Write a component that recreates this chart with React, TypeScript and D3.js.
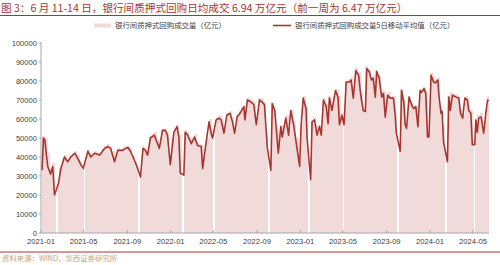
import React from "react";
import * as d3 from "d3";

const W = 500;
const H = 265;

const titleText = "图 3：6 月 11-14 日，银行间质押式回购日均成交 6.94 万亿元（前一周为 6.47 万亿元）";
const legendBarText = "银行间质押式回购成交量（亿元）";
const legendLineText = "银行间质押式回购成交量5日移动平均值（亿元）";
const sourceText = "资料来源：WIND，华西证券研究所";

const yTicks = [0, 10000, 20000, 30000, 40000, 50000, 60000, 70000, 80000, 90000, 100000];
const xTickMonths = [
  "2021-01", "2021-05", "2021-09", "2022-01", "2022-05", "2022-09",
  "2023-01", "2023-05", "2023-09", "2024-01", "2024-05",
];

const firstWeekStart = "2021-01-04";
const lastTradingDay = "2024-06-14";

// weekly bars of daily repo volume (亿元), one per week starting Monday
const weeklyVolume = [
  // 2021
  51000, 50000, 42000, 34000, 37000, 20000, 27000, 35000, 39000, 41000, 39000, 41000, 42000,
  43000, 41000, 38000, 36000, 40000, 44000, 42000, 42000, 43000, 42000, 42000, 44000, 46000,
  47000, 46000, 43000, 40000, 45000, 44000, 45000, 46000, 46000, 45000, 41000, 38000, 35000,
  31000, 46000, 45000, 43000, 51000, 52000, 53000, 49000, 47000, 55000, 55000, 53000, 40000,
  // 2022
  50000, 55000, 57000, 52000, 31000, 54000, 53000, 50000, 49000, 52000, 48000, 47000, 46000,
  40000, 50000, 60000, 54000, 54000, 61000, 62000, 60000, 55000, 63000, 64000, 61000, 55000,
  62000, 64000, 66000, 67000, 71000, 71000, 70000, 69000, 60000, 71000, 71000, 69000, 52000,
  35000, 69000, 66000, 55000, 50000, 57000, 57000, 62000, 55000, 65000, 59000, 50000, 38000,
  // 2023
  58000, 72000, 67000, 30000, 59000, 61000, 57000, 57000, 55000, 71000, 68000, 72000, 66000,
  72000, 76000, 72000, 63000, 60000, 80000, 81000, 82000, 75000, 87000, 85000, 74000, 66000,
  88000, 86000, 82000, 83000, 86000, 83000, 75000, 75000, 73000, 74000, 72000, 72000, 63000,
  45000, 76000, 70000, 58000, 72000, 69000, 67000, 67000, 60000, 76000, 77000, 75000, 52000,
  // 2024
  84000, 82000, 81000, 82000, 66000, 57000, 40000, 72000, 74000, 73000, 73000, 72000, 65000,
  62000, 72000, 71000, 65000, 50000, 60000, 62000, 63000, 55000, 64000, 72000,
];

// market closures (long holidays)
const holidays: [string, string][] = [
  ["2021-02-11", "2021-02-17"],
  ["2021-05-01", "2021-05-05"],
  ["2021-10-01", "2021-10-07"],
  ["2022-01-31", "2022-02-06"],
  ["2022-04-30", "2022-05-04"],
  ["2022-10-01", "2022-10-07"],
  ["2023-01-21", "2023-01-27"],
  ["2023-04-29", "2023-05-03"],
  ["2023-09-29", "2023-10-06"],
  ["2024-02-10", "2024-02-17"],
  ["2024-05-01", "2024-05-05"],
];

// 5-day moving average (亿元)
const maSeries: [string, number][] = [
  ["2021-01-04", 33000], ["2021-01-08", 50000], ["2021-01-12", 49000], ["2021-01-15", 43000],
  ["2021-01-20", 35000], ["2021-01-28", 31000], ["2021-02-03", 35000], ["2021-02-08", 20000],
  ["2021-02-19", 26000], ["2021-02-26", 34000], ["2021-03-08", 40000], ["2021-03-17", 37500],
  ["2021-03-26", 40000], ["2021-04-06", 42000], ["2021-04-15", 39000], ["2021-04-23", 36000],
  ["2021-04-30", 34000], ["2021-05-13", 43000], ["2021-05-21", 40000], ["2021-06-01", 42000],
  ["2021-06-15", 41000], ["2021-06-29", 44500], ["2021-07-08", 45500], ["2021-07-16", 44500],
  ["2021-07-27", 37500], ["2021-08-05", 43500], ["2021-08-19", 43500], ["2021-08-27", 44500],
  ["2021-09-03", 45000], ["2021-09-10", 43000], ["2021-09-17", 40000], ["2021-09-24", 37000],
  ["2021-09-30", 34000], ["2021-10-08", 29500], ["2021-10-15", 44500], ["2021-10-22", 43500],
  ["2021-10-28", 41000], ["2021-11-05", 50000], ["2021-11-16", 51500], ["2021-11-30", 44500],
  ["2021-12-09", 54000], ["2021-12-17", 54000], ["2021-12-23", 51500], ["2021-12-31", 36000],
  ["2022-01-10", 53000], ["2022-01-19", 56000], ["2022-01-24", 50500], ["2022-01-28", 31500],
  ["2022-02-07", 30500], ["2022-02-11", 53000], ["2022-02-18", 51500], ["2022-02-28", 47000],
  ["2022-03-09", 50500], ["2022-03-18", 46000], ["2022-03-28", 45500], ["2022-04-01", 34000],
  ["2022-04-11", 48000], ["2022-04-19", 58500], ["2022-04-25", 52500], ["2022-04-29", 50000],
  ["2022-05-09", 59500], ["2022-05-18", 60500], ["2022-05-23", 59500], ["2022-05-31", 52500],
  ["2022-06-08", 62000], ["2022-06-17", 63000], ["2022-06-24", 58500], ["2022-06-30", 52500],
  ["2022-07-07", 61000], ["2022-07-15", 63000], ["2022-07-26", 66500], ["2022-07-29", 59500],
  ["2022-08-05", 70000], ["2022-08-15", 69000], ["2022-08-23", 67500], ["2022-08-30", 57000],
  ["2022-09-08", 70000], ["2022-09-15", 69000], ["2022-09-22", 67500], ["2022-09-30", 45000],
  ["2022-10-10", 33000], ["2022-10-14", 68000], ["2022-10-21", 64500], ["2022-10-31", 42000],
  ["2022-11-07", 56000], ["2022-11-11", 50500], ["2022-11-21", 60500], ["2022-11-29", 51500],
  ["2022-12-05", 64500], ["2022-12-13", 57000], ["2022-12-20", 48000], ["2022-12-30", 35000],
  ["2023-01-03", 56000], ["2023-01-09", 71000], ["2023-01-17", 65500], ["2023-01-20", 50000],
  ["2023-01-30", 28000], ["2023-02-03", 58500], ["2023-02-10", 59500], ["2023-02-17", 51500],
  ["2023-02-24", 56000], ["2023-03-01", 51500], ["2023-03-07", 70000], ["2023-03-15", 66500],
  ["2023-03-20", 57500], ["2023-03-24", 71000], ["2023-03-31", 64500], ["2023-04-10", 75000],
  ["2023-04-17", 71500], ["2023-04-21", 57000], ["2023-04-28", 62000], ["2023-05-04", 57000],
  ["2023-05-10", 79500], ["2023-05-19", 79500], ["2023-05-24", 80500], ["2023-05-30", 71000],
  ["2023-06-06", 85500], ["2023-06-14", 83000], ["2023-06-20", 72500], ["2023-06-27", 64500],
  ["2023-07-03", 64000], ["2023-07-07", 86500], ["2023-07-14", 85000], ["2023-07-20", 80500],
  ["2023-07-25", 81500], ["2023-07-31", 71500], ["2023-08-04", 85000], ["2023-08-11", 81500],
  ["2023-08-18", 71500], ["2023-08-23", 73500], ["2023-08-28", 61000], ["2023-09-04", 72500],
  ["2023-09-11", 71000], ["2023-09-20", 71000], ["2023-09-25", 62000], ["2023-09-28", 53000],
  ["2023-10-09", 43000], ["2023-10-13", 75000], ["2023-10-19", 69000], ["2023-10-23", 57000],
  ["2023-10-27", 55000], ["2023-11-03", 71500], ["2023-11-10", 67500], ["2023-11-16", 65500],
  ["2023-11-22", 66500], ["2023-11-28", 56000], ["2023-12-04", 75000], ["2023-12-08", 74000],
  ["2023-12-15", 76000], ["2023-12-20", 73500], ["2023-12-25", 50500], ["2023-12-29", 50500],
  ["2024-01-04", 83000], ["2024-01-11", 79500], ["2024-01-16", 79000], ["2024-01-23", 80500],
  ["2024-01-26", 72500], ["2024-02-01", 63000], ["2024-02-04", 64000], ["2024-02-08", 48000],
  ["2024-02-19", 37500], ["2024-02-23", 71500], ["2024-02-27", 64500], ["2024-03-04", 72500],
  ["2024-03-15", 71500], ["2024-03-22", 71000], ["2024-03-27", 63000], ["2024-04-02", 60500],
  ["2024-04-08", 71000], ["2024-04-15", 70000], ["2024-04-19", 64500], ["2024-04-25", 63000],
  ["2024-04-29", 46500], ["2024-05-06", 46500], ["2024-05-09", 59500], ["2024-05-13", 53000],
  ["2024-05-17", 60500], ["2024-05-24", 61000], ["2024-05-31", 52500], ["2024-06-06", 63000],
  ["2024-06-11", 70000], ["2024-06-14", 69400],
];

const RED = "#a8362e";
const BAR = "#f1dada";
const AXIS = "#a6a6a6";
const TEXT = "#404040";
const SANS = "'Liberation Sans', Arial, 'Noto Sans CJK SC', sans-serif";
const CJK = "'Noto Sans CJK SC', 'Liberation Sans', sans-serif";

export default function App() {
  const parse = d3.utcParse("%Y-%m-%d");
  const parseM = d3.utcParse("%Y-%m");
  const fmtM = d3.utcFormat("%Y-%m");

  const x = d3
    .scaleUtc()
    .domain([parse("2021-01-01")!, parse("2024-05-01")!])
    .range([41, 473]);
  const y = d3.scaleLinear().domain([0, 100000]).range([233, 43]);

  const start = parse(firstWeekStart)!;
  const end = d3.utcDay.offset(parse(lastTradingDay)!, 1);
  const hol = holidays.map(([a, b]) => [parse(a)!, d3.utcDay.offset(parse(b)!, 1)] as [Date, Date]);

  const bars: { x0: number; x1: number; v: number; key: string }[] = [];
  weeklyVolume.forEach((v, i) => {
    const s = d3.utcDay.offset(start, 7 * i);
    let e = d3.utcDay.offset(s, 7);
    if (e > end) e = end;
    let pieces: [Date, Date][] = [[s, e]];
    hol.forEach(([hs, he]) => {
      const next: [Date, Date][] = [];
      pieces.forEach(([a, b]) => {
        if (he <= a || hs >= b) {
          next.push([a, b]);
        } else {
          if (hs > a) next.push([a, hs]);
          if (he < b) next.push([he, b]);
        }
      });
      pieces = next;
    });
    pieces.forEach(([a, b], j) => {
      bars.push({ x0: x(a), x1: x(b), v, key: `${i}-${j}` });
    });
  });

  const line = d3
    .line<[string, number]>()
    .x((d) => x(parse(d[0])!))
    .y((d) => y(d[1]));

  const xEnd = x(end);

  return (
    <svg
      width={W}
      height={H}
      viewBox={`0 0 ${W} ${H}`}
      style={{ position: "absolute", left: 0, top: 0, background: "#fff" }}
    >
      {/* title */}
      <text x={1} y={12} fontFamily={CJK} fontSize={10.6} fill={RED}>
        {titleText}
      </text>
      <line x1={0} x2={W} y1={15.5} y2={15.5} stroke={RED} strokeWidth={1.2} />

      {/* legend */}
      <rect x={94} y={23.5} width={17} height={4} fill={BAR} />
      <text x={115} y={28} fontFamily={CJK} fontSize={7.4} fill={TEXT}>
        {legendBarText}
      </text>
      <line x1={273} x2={291} y1={25.5} y2={25.5} stroke={RED} strokeWidth={1.6} />
      <text x={295} y={28} fontFamily={CJK} fontSize={7.4} fill={TEXT}>
        {legendLineText}
      </text>

      {/* bars */}
      <g shapeRendering="crispEdges">
        {bars.map((b) => {
          const w = b.x1 - b.x0;
          return (
            <rect
              key={b.key}
              x={b.x0}
              y={y(b.v)}
              width={w + 0.5}
              height={y(0) - y(b.v)}
              fill={BAR}
            />
          );
        })}
      </g>

      {/* axes */}
      <line x1={41} x2={41} y1={42} y2={233} stroke={AXIS} strokeWidth={1} />
      <line x1={41} x2={xEnd} y1={233} y2={233} stroke={AXIS} strokeWidth={1} />
      {yTicks.map((t) => (
        <g key={t}>
          <line x1={39} x2={41} y1={y(t)} y2={y(t)} stroke={AXIS} />
          <text
            x={37}
            y={y(t) + 2.6}
            textAnchor="end"
            fontFamily={SANS}
            fontSize={7.6}
            fill={TEXT}
          >
            {t}
          </text>
        </g>
      ))}
      {xTickMonths.map((m) => {
        const px = x(parseM(m)!);
        return (
          <g key={m}>
            <line x1={px} x2={px} y1={233} y2={230} stroke={AXIS} />
            <text
              x={px}
              y={244}
              textAnchor="middle"
              fontFamily={SANS}
              fontSize={7.6}
              fill={TEXT}
            >
              {fmtM(parseM(m)!)}
            </text>
          </g>
        );
      })}

      {/* moving average line */}
      <path d={line(maSeries) || ""} fill="none" stroke={RED} strokeWidth={1.6} strokeLinejoin="round" />

      {/* footer */}
      <line x1={0} x2={W} y1={252} y2={252} stroke={RED} strokeWidth={1.2} />
      <text x={2} y={261} fontFamily={CJK} fontSize={7.4} fill="#c9a27a">
        {sourceText}
      </text>
    </svg>
  );
}
